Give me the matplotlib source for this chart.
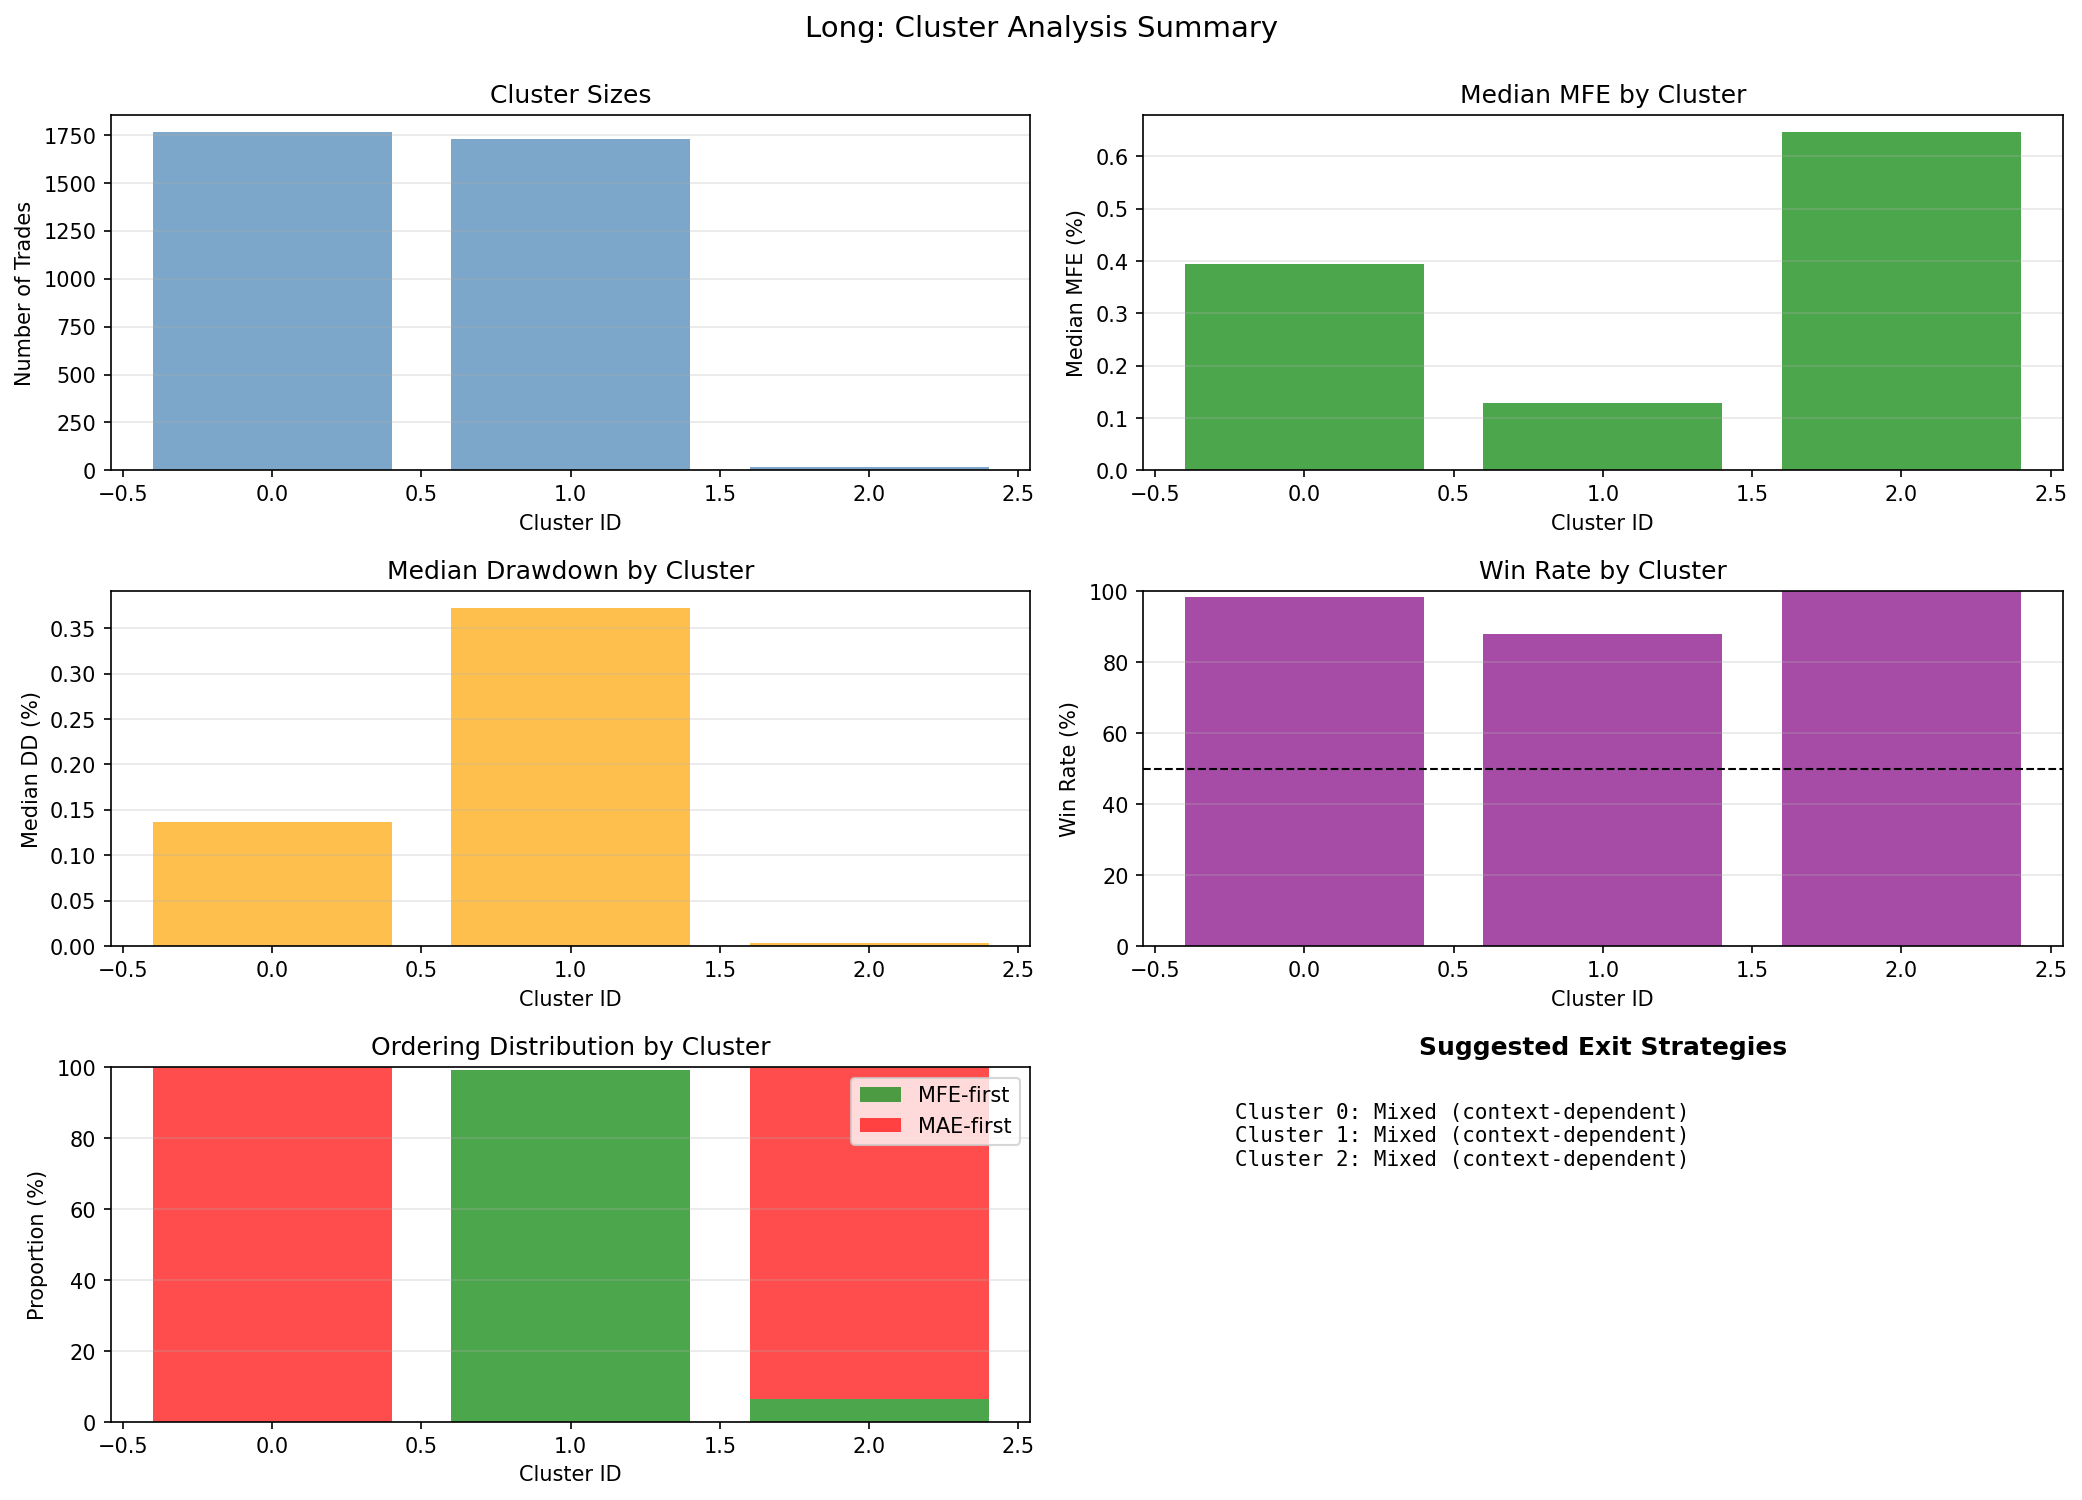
import matplotlib
matplotlib.use("Agg")
import matplotlib.pyplot as plt
import numpy as np

# Daten pro Cluster
cluster_ids = [0, 1, 2]
cluster_sizes = [1765, 1731, 15]
median_mfe = [0.395, 0.128, 0.646]
median_dd = [0.137, 0.372, 0.003]
win_rate = [98.5, 87.9, 100.0]
mfe_first = [0.0, 99.2, 6.5]
mae_first = [100.0, 0.0, 93.5]
strategies = [
    "Mixed (context-dependent)",
    "Mixed (context-dependent)",
    "Mixed (context-dependent)",
]

fig, axes = plt.subplots(3, 2, figsize=(14, 10.17))
fig.suptitle("Long: Cluster Analysis Summary", fontsize=14)

x = np.array(cluster_ids)

ax = axes[0, 0]
ax.bar(x, cluster_sizes, color="steelblue", alpha=0.7)
ax.set_title("Cluster Sizes")
ax.set_xlabel("Cluster ID")
ax.set_ylabel("Number of Trades")
ax.grid(True, axis="y", alpha=0.3)

ax = axes[0, 1]
ax.bar(x, median_mfe, color="green", alpha=0.7)
ax.set_title("Median MFE by Cluster")
ax.set_xlabel("Cluster ID")
ax.set_ylabel("Median MFE (%)")
ax.grid(True, axis="y", alpha=0.3)

ax = axes[1, 0]
ax.bar(x, median_dd, color="orange", alpha=0.7)
ax.set_title("Median Drawdown by Cluster")
ax.set_xlabel("Cluster ID")
ax.set_ylabel("Median DD (%)")
ax.grid(True, axis="y", alpha=0.3)

ax = axes[1, 1]
ax.bar(x, win_rate, color="purple", alpha=0.7)
ax.axhline(50, color="black", linestyle="--", linewidth=1)
ax.set_title("Win Rate by Cluster")
ax.set_xlabel("Cluster ID")
ax.set_ylabel("Win Rate (%)")
ax.set_ylim(0, 100)
ax.grid(True, axis="y", alpha=0.3)

ax = axes[2, 0]
ax.bar(x, mfe_first, color="green", alpha=0.7, label="MFE-first")
ax.bar(x, mae_first, bottom=mfe_first, color="red", alpha=0.7, label="MAE-first")
ax.set_title("Ordering Distribution by Cluster")
ax.set_xlabel("Cluster ID")
ax.set_ylabel("Proportion (%)")
ax.set_ylim(0, 100)
ax.legend()
ax.grid(True, axis="y", alpha=0.3)

# Textfeld mit Strategien
ax = axes[2, 1]
ax.axis("off")
text = "\n".join(f"Cluster {c}: {s}" for c, s in zip(cluster_ids, strategies))
ax.text(0.1, 0.9, text, transform=ax.transAxes, fontsize=10,
        verticalalignment="top", family="monospace")
ax.set_title("Suggested Exit Strategies", fontsize=12, fontweight="bold")

plt.tight_layout(rect=[0, 0, 1, 0.984])
plt.savefig("out.png", dpi=150, bbox_inches="tight")
